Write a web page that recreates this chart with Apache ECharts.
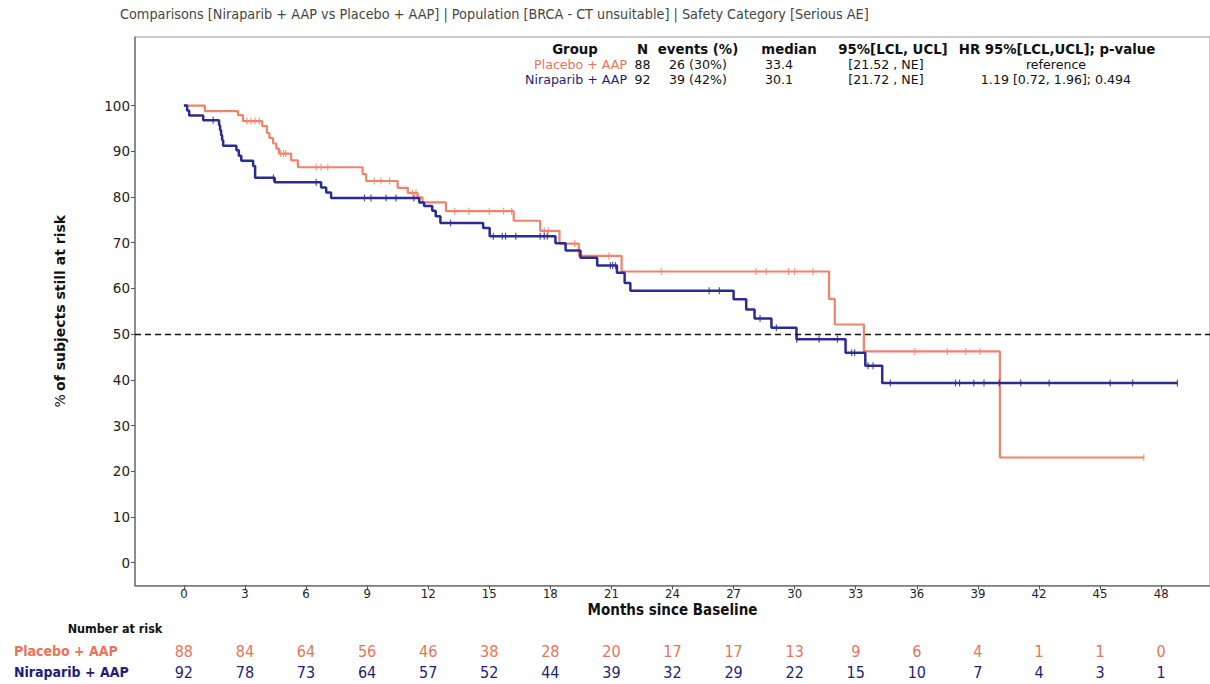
<!DOCTYPE html>
<html>
<head>
<meta charset="utf-8">
<script src="https://cdn.jsdelivr.net/npm/echarts@6/dist/echarts.min.js"></script>
<style>html,body{margin:0;padding:0;background:#fff;}#c{width:1210px;height:684px;}</style>
</head>
<body>
<div id="c"></div>
<script>
// ---------- DATA ----------
const titleText = 'Comparisons [Niraparib + AAP vs Placebo + AAP] | Population [BRCA - CT unsuitable] | Safety Category [Serious AE]';
const groups = ['Placebo + AAP', 'Niraparib + AAP'];
const xTicks = [0,3,6,9,12,15,18,21,24,27,30,33,36,39,42,45,48];
const yTicks = [0,10,20,30,40,50,60,70,80,90,100];

// Kaplan-Meier steps [months, % at risk]
const placeboSteps = [[0,100],[1.03,98.8],[2.66,97.9],[2.9,96.6],[3.85,95.5],[4.08,94.0],[4.2,92.9],[4.38,91.7],[4.54,90.6],[4.67,89.5],[5.27,88.0],[5.6,86.5],[8.78,85.0],[8.95,83.5],[10.5,82.0],[11.0,80.9],[11.48,79.9],[11.72,78.8],[12.87,76.9],[16.2,74.8],[17.5,72.6],[18.45,69.8],[19.4,67.1],[21.5,63.7],[31.69,57.7],[31.97,52.1],[33.4,46.2],[40.08,23.0],[47.15,23.0]];
const niraparibSteps = [[0,100],[0.16,98.9],[0.26,97.8],[0.95,96.8],[1.73,95.7],[1.78,94.6],[1.83,93.5],[1.88,92.4],[1.93,91.2],[2.58,90.2],[2.7,89.0],[2.82,87.9],[3.4,86.8],[3.5,84.2],[4.46,83.2],[6.74,82.1],[6.99,81.0],[7.23,79.8],[11.56,78.8],[11.8,78.0],[12.2,77.0],[12.37,75.8],[12.6,74.3],[14.7,73.2],[15.02,71.4],[18.25,69.9],[18.75,68.3],[19.48,66.7],[20.3,65.0],[21.27,63.4],[21.65,61.2],[21.93,59.5],[27.0,57.6],[27.62,55.4],[28.03,53.4],[28.86,51.4],[30.09,48.9],[32.5,45.9],[33.47,43.1],[34.3,39.3],[48.8,39.3]];

// censoring times (months)
const placeboCensor = [3.1,3.3,3.5,3.7,4.75,4.9,5.0,6.5,6.74,7.07,9.35,9.68,10.1,11.23,11.4,13.3,14.0,15.0,15.7,16.1,17.7,17.9,19.2,20.87,23.45,28.1,28.6,29.7,30.0,30.9,35.9,37.5,38.4,39.1,47.15];
const niraparibCensor = [1.44,4.4,6.5,8.87,9.19,9.93,10.42,11.3,13.1,15.2,15.64,15.8,16.3,17.5,17.7,17.85,20.95,21.06,21.2,25.8,26.3,28.3,29.1,30.1,31.2,32.1,32.8,32.95,33.6,33.85,34.7,37.9,38.1,38.8,39.3,40.05,41.1,42.5,45.5,46.6,48.8];

// Number at risk
const riskPlacebo = [88,84,64,56,46,38,28,20,17,17,13,9,6,4,1,1,0];
const riskNiraparib = [92,78,73,64,57,52,44,39,32,29,22,15,10,7,4,3,1];

// Summary table
const tableHeader = ['Group','N','events (%)','median','95%[LCL, UCL]','HR 95%[LCL,UCL]; p-value'];
const tablePlacebo = ['Placebo + AAP','88','26 (30%)','33.4','[21.52 , NE]','reference'];
const tableNiraparib = ['Niraparib + AAP','92','39 (42%)','30.1','[21.72 , NE]','1.19 [0.72, 1.96]; 0.494'];

// ---------- STYLE ----------
const ORANGE = '#F2836A';
const NAVY = '#2B2B94';
const ORANGE_TXT = '#EC7358';
const NAVY_TXT = '#1E1E78';
const COND = "'DejaVu Sans Condensed','Liberation Sans Narrow','DejaVu Sans',sans-serif";
const SANS = "'DejaVu Sans',sans-serif";

function valueAt(steps, t) {
  let v = steps[0][1];
  for (const s of steps) { if (s[0] <= t) v = s[1]; else break; }
  return v;
}
const placeboCensorPts = placeboCensor.map(t => [t, valueAt(placeboSteps, t)]);
const niraparibCensorPts = niraparibCensor.map(t => [t, valueAt(niraparibSteps, t)]);

const chart = echarts.init(document.getElementById('c'), null, {renderer: 'svg'});

const option = {
  animation: false,
  backgroundColor: '#fff',
  grid: {left: 135, top: 37, right: -3, bottom: 98.5, show: true, borderColor: '#999', borderWidth: 1, containLabel: false},
  xAxis: {
    type: 'value', min: -2.4, max: 50.4,
    axisLine: {show: true, onZero: false, lineStyle: {color: '#777', width: 1.5}},
    axisTick: {show: true, length: 4, customValues: xTicks, lineStyle: {color: '#555'}},
    axisLabel: {customValues: xTicks, color: '#222', fontFamily: COND, fontSize: 13, margin: 1},
    splitLine: {show: false},
    name: 'Months since Baseline', nameLocation: 'middle', nameGap: 16.5, nameMoveOverlap: false,
    nameTextStyle: {fontFamily: COND, fontWeight: 'bold', fontSize: 15, color: '#111'}
  },
  yAxis: {
    type: 'value', min: -5, max: 115,
    axisLine: {show: true, onZero: false, lineStyle: {color: '#777', width: 1.5}},
    axisTick: {show: true, length: 4, customValues: yTicks, lineStyle: {color: '#555'}},
    axisLabel: {customValues: yTicks, color: '#222', fontFamily: SANS, fontSize: 13.5, margin: 5},
    splitLine: {show: false},
    name: '{n|%} {b|of subjects still at risk}', nameLocation: 'middle', nameGap: 68, nameRotate: 90,
    nameTextStyle: {rich: {
      n: {fontFamily: SANS, fontSize: 14, color: '#111'},
      b: {fontFamily: SANS, fontSize: 14, fontWeight: 'bold', color: '#111'}
    }}
  },
  series: [
    {
      name: groups[0], type: 'line', step: 'end', data: placeboSteps, showSymbol: false,
      lineStyle: {color: ORANGE, width: 2.2}, z: 2,
      markLine: {silent: true, symbol: 'none', label: {show: false},
        lineStyle: {color: '#111', type: [6, 4], width: 1.4}, data: [{yAxis: 50}]}
    },
    {
      name: groups[0] + ' censored', type: 'scatter', data: placeboCensorPts,
      symbol: 'rect', symbolSize: [1.2, 7], itemStyle: {color: ORANGE}, z: 3
    },
    {
      name: groups[1], type: 'line', step: 'end', data: niraparibSteps, showSymbol: false,
      lineStyle: {color: NAVY, width: 2.5}, z: 4
    },
    {
      name: groups[1] + ' censored', type: 'scatter', data: niraparibCensorPts,
      symbol: 'rect', symbolSize: [1.2, 7], itemStyle: {color: NAVY}, z: 5
    }
  ]
};
chart.setOption(option);

// ---------- TEXT (title, summary table, risk table) ----------
const g = [];
g.push({type: 'text', style: {text: titleText, x: 120, y: 14, font: '14.3px ' + COND, fill: '#444', textVerticalAlign: 'middle'}});

const colX = [627, 642.5, 698, 779, 886, 1056];
const headX = [575, 642.5, 698, 789, 893, 1057];
tableHeader.forEach((t, i) => g.push({type: 'text', style: {text: t, x: headX[i], y: 49.5, font: 'bold 13.3px ' + SANS, fill: '#111', textAlign: 'center', textVerticalAlign: 'middle'}}));
const rows = [[tablePlacebo, ORANGE_TXT, 64.5], [tableNiraparib, NAVY_TXT, 79]];
rows.forEach(([row, col, y]) => {
  row.forEach((t, i) => g.push({type: 'text', style: {text: t, x: colX[i], y: y, font: '12.6px ' + SANS,
    fill: i === 0 ? col : '#111', textAlign: i === 0 ? 'right' : 'center', textVerticalAlign: 'middle'}}));
});

g.push({type: 'text', style: {text: 'Number at risk', x: 115, y: 628, font: 'bold 12.5px ' + COND, fill: '#111', textAlign: 'center', textVerticalAlign: 'middle'}});
g.push({type: 'text', style: {text: groups[0], x: 14, y: 651, font: 'bold 14px ' + COND, fill: ORANGE_TXT, textAlign: 'left', textVerticalAlign: 'middle'}});
g.push({type: 'text', style: {text: groups[1], x: 14, y: 672, font: 'bold 14px ' + COND, fill: NAVY_TXT, textAlign: 'left', textVerticalAlign: 'middle'}});
xTicks.forEach((t, i) => {
  const px = chart.convertToPixel({xAxisIndex: 0}, t);
  g.push({type: 'text', style: {text: String(riskPlacebo[i]), x: px, y: 651, font: '16px ' + COND, fill: ORANGE_TXT, textAlign: 'center', textVerticalAlign: 'middle'}});
  g.push({type: 'text', style: {text: String(riskNiraparib[i]), x: px, y: 672, font: '16px ' + COND, fill: NAVY_TXT, textAlign: 'center', textVerticalAlign: 'middle'}});
});
chart.setOption({graphic: g});
</script>
</body>
</html>
